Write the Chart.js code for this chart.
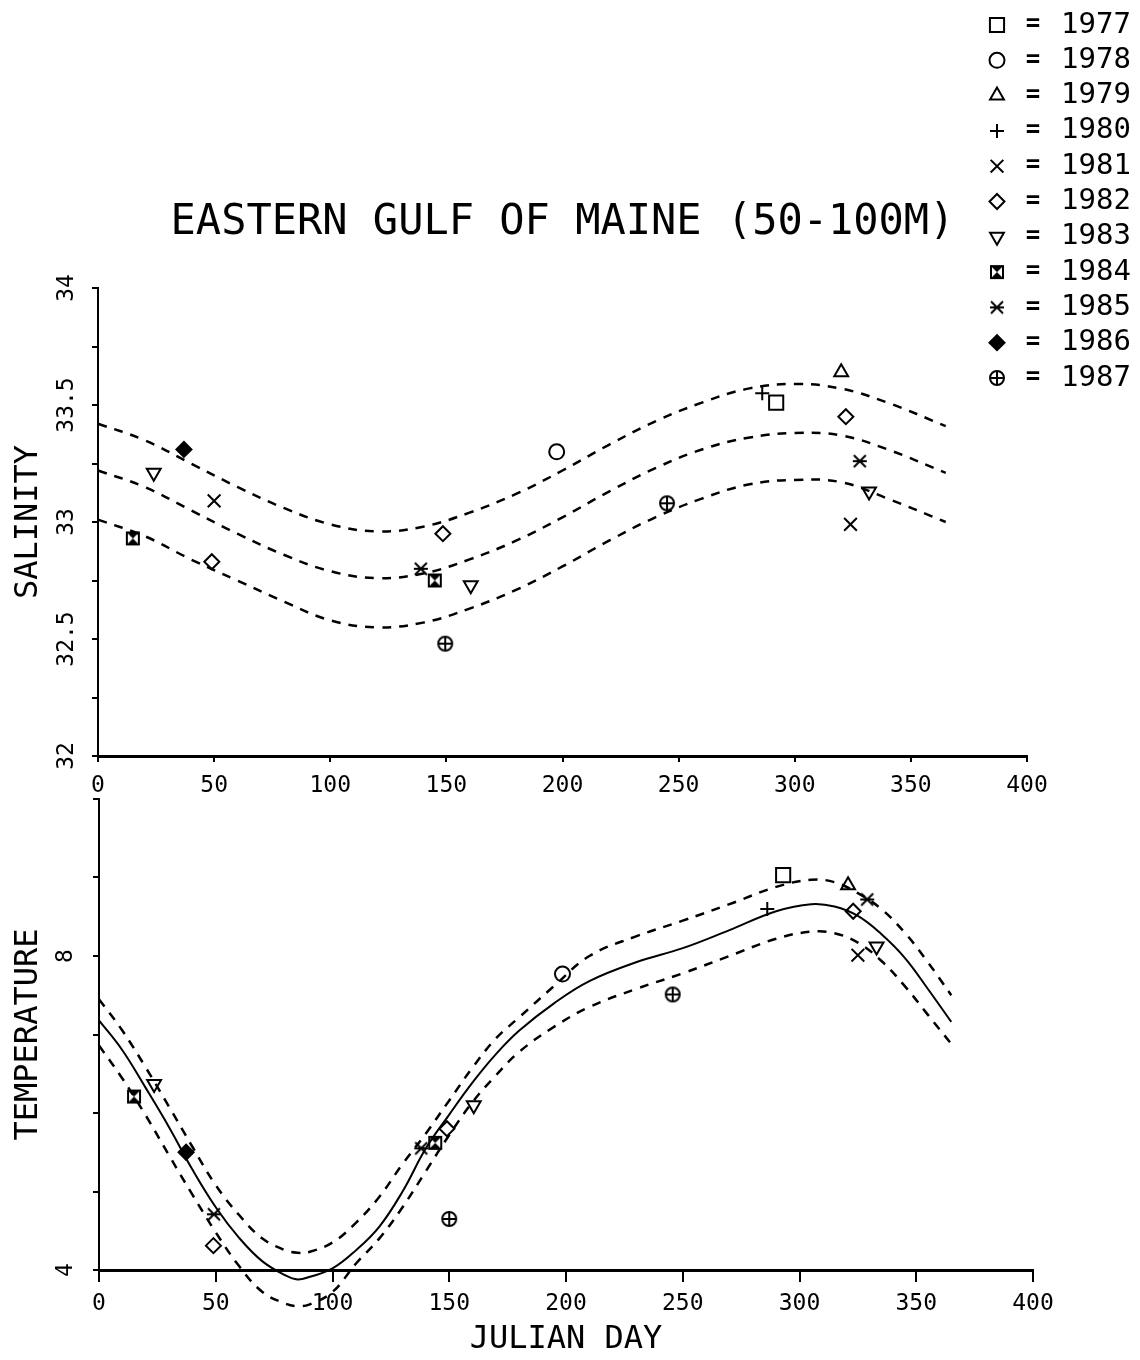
<!DOCTYPE html>
<html lang="en">
<head>
    <meta charset="UTF-8">
    <title>Eastern Gulf of Maine (50-100m)</title>
    <script src="https://cdn.jsdelivr.net/npm/chart.js@4.4.0/dist/chart.umd.min.js"></script>
    <style>
        html, body { margin: 0; padding: 0; background: #fff; }
        #wrap { position: relative; width: 1140px; height: 1360px; }
        #wrap canvas { position: absolute; left: 0; }
        #salCanvas { top: 0; width: 1140px; height: 810px; }
        #tempCanvas { top: 780px; width: 1140px; height: 580px; }
    </style>
</head>
<body>
<div id="wrap">
    <canvas id="salCanvas" width="1140" height="810"></canvas>
    <canvas id="tempCanvas" width="1140" height="580"></canvas>
</div>
<script>
    // years in the key
    const years = [1977, 1978, 1979, 1980, 1981, 1982, 1983, 1984, 1985, 1986, 1987];

    // salinity samples (julian day, value, year)
    const salDay  = [292, 197.5, 320, 286, 50, 324, 49, 148.5, 322, 24, 160.5, 332, 15, 145, 139, 328, 37, 149.5, 245];
    const salVal  = [33.51, 33.30, 33.64, 33.55, 33.09, 32.99, 32.83, 32.95, 33.45, 33.21, 32.73, 33.13, 32.93, 32.75, 32.80, 33.26, 33.31, 32.48, 33.08];
    const salYear = [1977, 1978, 1979, 1980, 1981, 1981, 1982, 1982, 1982, 1983, 1983, 1983, 1984, 1984, 1985, 1985, 1986, 1987, 1987];

    // temperature samples (julian day, value, year)
    const tempDay  = [293, 198.5, 320.8, 286.2, 325, 49, 149, 323, 23.6, 160.5, 333, 15, 144, 49.2, 138, 329, 37.3, 150, 245.7];
    const tempVal  = [9.03, 7.77, 8.90, 8.60, 8.01, 4.31, 5.80, 8.57, 6.37, 6.10, 8.12, 6.21, 5.62, 4.71, 5.55, 8.72, 5.50, 4.65, 7.51];
    const tempYear = [1977, 1978, 1979, 1980, 1981, 1982, 1982, 1982, 1983, 1983, 1983, 1984, 1984, 1985, 1985, 1985, 1986, 1987, 1987];

    // fitted salinity curve and its band
    const salCurveDays = [0, 20, 40, 60, 80, 100, 120, 140, 160, 180, 200, 220, 240, 260, 280, 300, 320, 340, 365];
    const salMean  = [33.22, 33.15, 33.05, 32.95, 32.86, 32.79, 32.76, 32.78, 32.84, 32.92, 33.02, 33.13, 33.23, 33.31, 33.36, 33.38, 33.37, 33.31, 33.21];
    const salUpper = [33.42, 33.35, 33.25, 33.15, 33.06, 32.99, 32.96, 32.98, 33.04, 33.12, 33.22, 33.33, 33.43, 33.51, 33.57, 33.59, 33.57, 33.51, 33.41];
    const salLower = [33.01, 32.94, 32.84, 32.75, 32.66, 32.58, 32.55, 32.57, 32.63, 32.71, 32.81, 32.92, 33.02, 33.10, 33.16, 33.18, 33.17, 33.10, 33.00];

    // fitted temperature curve and its band
    const tempCurveDays = [0, 10, 20, 30, 40, 50, 60, 70, 80, 85, 90, 100, 110, 120, 130, 140, 150, 160, 170, 180, 195, 210, 230, 250, 270, 290, 305, 315, 325, 335, 345, 355, 365];
    const tempMean  = [7.18, 6.80, 6.32, 5.82, 5.28, 4.80, 4.41, 4.11, 3.93, 3.88, 3.91, 4.02, 4.25, 4.55, 5.00, 5.55, 5.98, 6.39, 6.75, 7.05, 7.40, 7.68, 7.92, 8.10, 8.33, 8.57, 8.66, 8.63, 8.51, 8.28, 7.98, 7.58, 7.16];
    const tempUpper = [7.45, 7.05, 6.58, 6.08, 5.57, 5.08, 4.70, 4.40, 4.25, 4.22, 4.23, 4.35, 4.60, 4.93, 5.35, 5.74, 6.16, 6.58, 6.95, 7.22, 7.62, 8.00, 8.25, 8.45, 8.66, 8.88, 8.97, 8.94, 8.80, 8.60, 8.30, 7.92, 7.50];
    const tempLower = [6.86, 6.44, 5.97, 5.46, 4.96, 4.48, 4.05, 3.72, 3.57, 3.54, 3.56, 3.72, 4.08, 4.40, 4.80, 5.26, 5.72, 6.14, 6.48, 6.78, 7.10, 7.35, 7.58, 7.78, 8.00, 8.22, 8.31, 8.29, 8.17, 7.94, 7.62, 7.25, 6.88];

    // labelled ticks
    const salTickLabels = [32, 32.5, 33, 33.5, 34];
    const tempTickLabels = [4, 8];

    const mono = "'DejaVu Sans Mono', 'Liberation Mono', monospace";
    Chart.defaults.font.family = mono;
    Chart.defaults.color = '#000';

    // little canvases for the symbols chart.js doesn't have
    function makeMark(size, draw) {
        const c = document.createElement('canvas');
        c.width = size;
        c.height = size;
        const g = c.getContext('2d');
        g.strokeStyle = '#000';
        g.fillStyle = '#000';
        g.lineWidth = 2;
        draw(g, size);
        return c;
    }
    const boxGlass = makeMark(16, (g) => {
        g.strokeRect(2, 2, 12, 12);
        g.beginPath();
        g.moveTo(2, 2); g.lineTo(14, 2); g.lineTo(8, 8); g.closePath();
        g.moveTo(2, 14); g.lineTo(14, 14); g.lineTo(8, 8); g.closePath();
        g.fill();
    });
    const xBar = makeMark(18, (g) => {
        g.beginPath();
        g.moveTo(3, 3); g.lineTo(15, 15);
        g.moveTo(15, 3); g.lineTo(3, 15);
        g.moveTo(2, 9); g.lineTo(16, 9);
        g.stroke();
    });
    const circlePlus = makeMark(18, (g) => {
        g.beginPath();
        g.arc(9, 9, 7, 0, Math.PI * 2);
        g.moveTo(2, 9); g.lineTo(16, 9);
        g.moveTo(9, 2); g.lineTo(9, 16);
        g.stroke();
    });

    // symbol for each year (same order as years)
    const marks = [
        { style: 'rect', radius: 10, rotation: 0, fill: 'rgba(0,0,0,0)' },
        { style: 'circle', radius: 7.5, rotation: 0, fill: 'rgba(0,0,0,0)' },
        { style: 'triangle', radius: 8, rotation: 0, fill: 'rgba(0,0,0,0)' },
        { style: 'cross', radius: 7, rotation: 0, fill: 'rgba(0,0,0,0)' },
        { style: 'crossRot', radius: 9, rotation: 0, fill: 'rgba(0,0,0,0)' },
        { style: 'rectRot', radius: 7.5, rotation: 0, fill: 'rgba(0,0,0,0)' },
        { style: 'triangle', radius: 8, rotation: 180, fill: 'rgba(0,0,0,0)' },
        { style: boxGlass, radius: 8, rotation: 0, fill: 'rgba(0,0,0,0)' },
        { style: xBar, radius: 8, rotation: 0, fill: 'rgba(0,0,0,0)' },
        { style: 'rectRot', radius: 7.5, rotation: 0, fill: '#000' },
        { style: circlePlus, radius: 8, rotation: 0, fill: 'rgba(0,0,0,0)' }
    ];

    function yearSets(days, vals, yrs) {
        return years.map((yr, i) => {
            const pts = [];
            yrs.forEach((y, j) => { if (y === yr) pts.push({ x: days[j], y: vals[j] }); });
            const m = marks[i];
            return {
                label: String(yr),
                data: pts,
                pointStyle: m.style,
                pointRadius: m.radius,
                pointRotation: m.rotation,
                pointBackgroundColor: m.fill,
                pointBorderColor: '#000',
                pointBorderWidth: 2,
                order: 1
            };
        });
    }

    function curveSet(days, vals, dashed, width) {
        return {
            label: '',
            data: days.map((d, i) => ({ x: d, y: vals[i] })),
            showLine: true,
            pointRadius: 0,
            borderColor: '#000',
            borderWidth: width,
            borderDash: dashed ? [9, 8] : [],
            tension: 0.4,
            capBezierPoints: false,
            clip: false,
            order: 2
        };
    }

    // key in the top right corner
    const keyX = 997, keyTop = 25, keyGap = 35.3;
    const yearKey = {
        id: 'yearKey',
        afterDraw(chart) {
            const ctx = chart.ctx;
            ctx.save();
            years.forEach((yr, i) => {
                const y = keyTop + i * keyGap;
                const m = marks[i];
                ctx.fillStyle = m.fill;
                ctx.strokeStyle = '#000';
                ctx.lineWidth = 2;
                Chart.helpers.drawPoint(ctx, { pointStyle: m.style, rotation: m.rotation, radius: m.radius, borderWidth: 2 }, keyX, y);
                ctx.fillStyle = '#000';
                ctx.textBaseline = 'middle';
                ctx.font = 'bold 24px ' + mono;
                ctx.textAlign = 'center';
                ctx.fillText('=', keyX + 36, y);
                ctx.font = '29px ' + mono;
                ctx.textAlign = 'left';
                ctx.fillText(String(yr), keyX + 64, y);
            });
            ctx.restore();
        }
    };

    const tickGrid = (len) => ({ drawOnChartArea: false, drawTicks: true, tickLength: len, color: '#000', lineWidth: 2 });

    new Chart(document.getElementById('salCanvas'), {
        type: 'scatter',
        data: {
            datasets: [
                curveSet(salCurveDays, salUpper, true, 2.5),
                curveSet(salCurveDays, salMean, true, 2.5),
                curveSet(salCurveDays, salLower, true, 2.5),
                ...yearSets(salDay, salVal, salYear)
            ]
        },
        options: {
            responsive: false,
            animation: false,
            events: [],
            layout: { padding: { left: 0, right: 113, top: 198, bottom: 10 } },
            plugins: {
                legend: { display: false },
                tooltip: { enabled: false },
                title: {
                    display: true,
                    text: 'EASTERN GULF OF MAINE (50-100M)',
                    color: '#000',
                    fullSize: false,
                    font: { size: 42, weight: 'normal' },
                    padding: { top: 0, bottom: 39.6 }
                }
            },
            scales: {
                x: {
                    type: 'linear', min: 0, max: 400,
                    ticks: { stepSize: 50, padding: 10, maxRotation: 0, autoSkip: false, font: { size: 23 } },
                    grid: tickGrid(6),
                    border: { display: true, color: '#000', width: 3 },
                    afterFit: (s) => { s.height = 44; }
                },
                y: {
                    type: 'linear', min: 32, max: 34,
                    ticks: {
                        stepSize: 0.25, autoSkip: false, minRotation: 90, maxRotation: 90,
                        crossAlign: 'center', padding: -3, font: { size: 23 },
                        callback: (v) => salTickLabels.includes(v) ? String(v) : ''
                    },
                    grid: tickGrid(6),
                    border: { display: true, color: '#000', width: 2 },
                    title: { display: true, text: 'SALINITY', color: '#000', font: { size: 32 }, padding: { top: 9, bottom: 0 } },
                    afterFit: (s) => { s.width = 98; s.paddingTop = 0; s.paddingBottom = 0; }
                }
            }
        },
        plugins: [yearKey]
    });

    new Chart(document.getElementById('tempCanvas'), {
        type: 'scatter',
        data: {
            datasets: [
                curveSet(tempCurveDays, tempUpper, true, 2.5),
                curveSet(tempCurveDays, tempMean, false, 2),
                curveSet(tempCurveDays, tempLower, true, 2.5),
                ...yearSets(tempDay, tempVal, tempYear)
            ]
        },
        options: {
            responsive: false,
            animation: false,
            events: [],
            layout: { padding: { left: 0, right: 107, top: 19, bottom: 1 } },
            plugins: {
                legend: { display: false },
                tooltip: { enabled: false }
            },
            scales: {
                x: {
                    type: 'linear', min: 0, max: 400,
                    ticks: { stepSize: 50, padding: 8, maxRotation: 0, autoSkip: false, font: { size: 23 } },
                    grid: tickGrid(12),
                    border: { display: true, color: '#000', width: 3 },
                    title: { display: true, text: 'JULIAN DAY', color: '#000', font: { size: 32 }, padding: { top: 0, bottom: 0 } },
                    afterFit: (s) => { s.height = 89; }
                },
                y: {
                    type: 'linear', min: 4, max: 10,
                    ticks: {
                        stepSize: 1, autoSkip: false, minRotation: 90, maxRotation: 90,
                        crossAlign: 'center', padding: 20, font: { size: 23 },
                        callback: (v) => tempTickLabels.includes(v) ? String(v) : ''
                    },
                    grid: tickGrid(6),
                    border: { display: true, color: '#000', width: 2 },
                    title: { display: true, text: 'TEMPERATURE', color: '#000', font: { size: 32 }, padding: { top: 9, bottom: 0 } },
                    afterFit: (s) => { s.width = 99; s.paddingTop = 0; s.paddingBottom = 0; }
                }
            }
        }
    });
</script>
</body>
</html>
